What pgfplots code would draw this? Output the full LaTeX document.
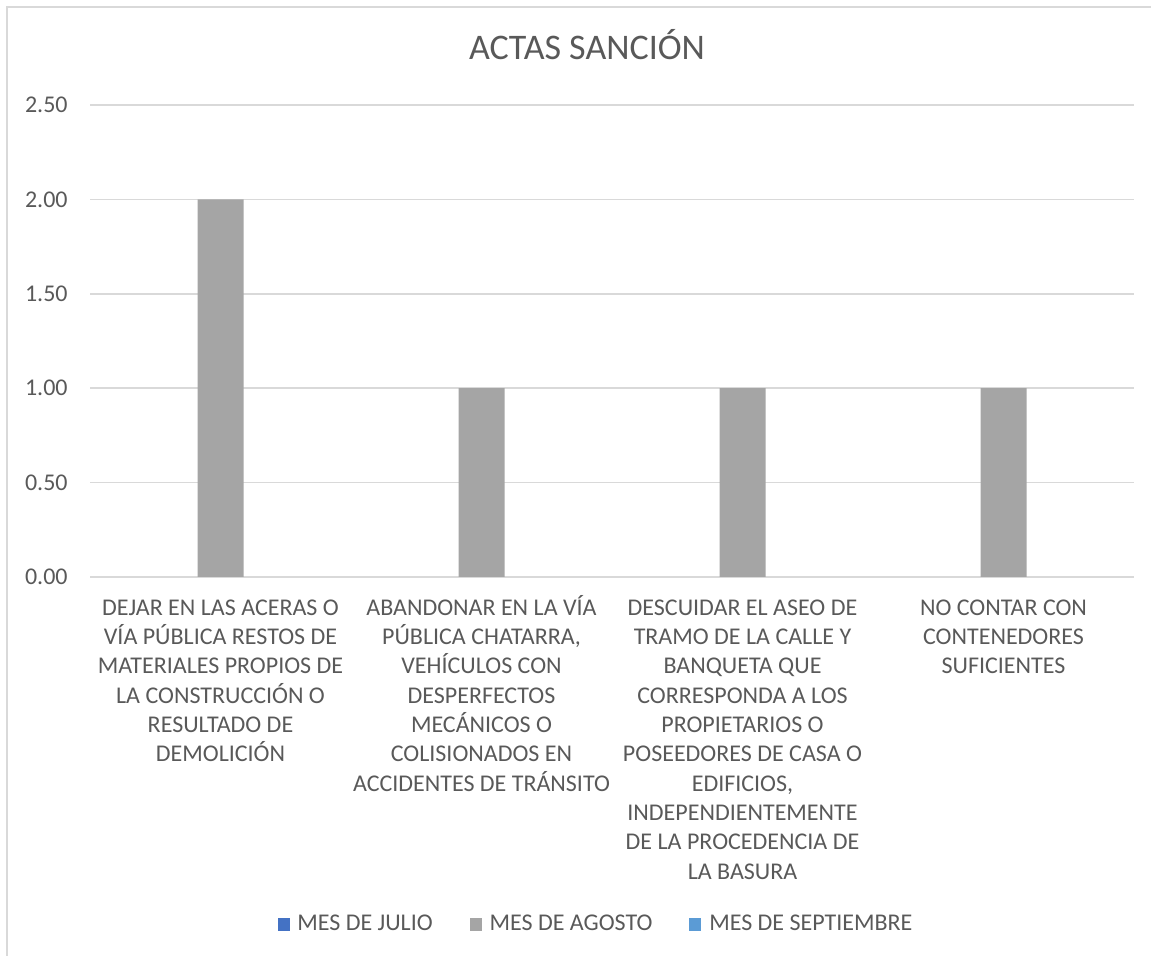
\documentclass[border=0pt]{standalone}
\usepackage{fontspec}
\setmainfont{Carlito}
\usepackage{pgfplots}
\pgfplotsset{compat=1.18}
\definecolor{txt}{HTML}{595959}
\definecolor{gridc}{HTML}{D9D9D9}
\definecolor{jul}{HTML}{4472C4}
\definecolor{ago}{HTML}{A5A5A5}
\definecolor{sep}{HTML}{5B9BD5}
\newcommand{\lb}{\rule{0pt}{11pt}}
\begin{document}
\begin{tikzpicture}[x=0.5pt,y=0.5pt]
\useasboundingbox (0,0) rectangle (1151,956);
\draw[gridc, line width=1pt] (7,0) -- (7,949) -- (1151,949);
\node[anchor=base, font=\fontsize{18}{22}\selectfont, text=txt, inner sep=0pt] at (587,896) {ACTAS SANCIÓN};
\begin{axis}[
  at={(45pt,189.5pt)}, anchor=south west,
  scale only axis, width=522pt, height=236pt,
  xmin=-0.5, xmax=3.5, ymin=0, ymax=2.5,
  ytick={0,0.5,1,1.5,2,2.5},
  xtick={0,1,2,3},
  xticklabels={
    {\lb DEJAR EN LAS ACERAS O\\VÍA PÚBLICA RESTOS DE\\MATERIALES PROPIOS DE\\LA CONSTRUCCIÓN O\\RESULTADO DE\\DEMOLICIÓN},
    {\lb ABANDONAR EN LA VÍA\\PÚBLICA CHATARRA,\\VEHÍCULOS CON\\DESPERFECTOS\\MECÁNICOS O\\COLISIONADOS EN\\ACCIDENTES DE TRÁNSITO},
    {\lb DESCUIDAR EL ASEO DE\\TRAMO DE LA CALLE Y\\BANQUETA QUE\\CORRESPONDA A LOS\\PROPIETARIOS O\\POSEEDORES DE CASA O\\EDIFICIOS,\\INDEPENDIENTEMENTE\\DE LA PROCEDENCIA DE\\LA BASURA},
    {\lb NO CONTAR CON\\CONTENEDORES\\SUFICIENTES}},
  ymajorgrids, grid style={gridc, line width=0.8pt},
  axis line style={draw=none},
  major tick length=0pt,
  tick label style={font=\fontsize{12}{14.65}\selectfont, text=txt, inner sep=0pt},
  xticklabel style={align=center, anchor=north, yshift=-8pt},
  yticklabel style={anchor=east, xshift=-11pt},
  /pgf/number format/fixed, /pgf/number format/fixed zerofill,
  /pgf/number format/precision=2, /pgf/number format/assume math mode=true,
  legend style={at={(0.4837,-0.735)}, anchor=center, draw=none, fill=none,
    legend columns=3, font=\fontsize{12}{14.65}\selectfont, text=txt,
    nodes={inner sep=0pt},
    /tikz/every odd column/.append style={column sep=4pt},
    /tikz/every even column/.append style={column sep=18.5pt}},
]
\addplot[ybar, bar width=23pt, fill=ago, draw=none, forget plot] coordinates {(0,2) (1,1) (2,1) (3,1)};
\addlegendimage{legend image code/.code={\fill[jul] (0pt,-3pt) rectangle (5.5pt,3pt);}}
\addlegendentry{MES DE JULIO}
\addlegendimage{legend image code/.code={\fill[ago] (0pt,-3pt) rectangle (5.5pt,3pt);}}
\addlegendentry{MES DE AGOSTO}
\addlegendimage{legend image code/.code={\fill[sep] (0pt,-3pt) rectangle (5.5pt,3pt);}}
\addlegendentry{MES DE SEPTIEMBRE}
\end{axis}
\end{tikzpicture}
\end{document}
